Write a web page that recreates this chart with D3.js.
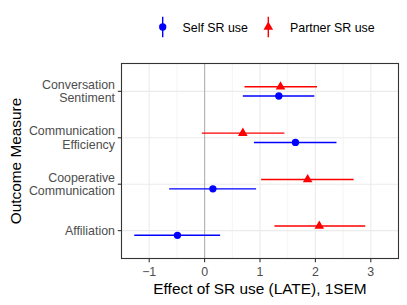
<!DOCTYPE html>
<html>
<head>
<meta charset="utf-8">
<script src="https://cdn.jsdelivr.net/npm/d3@7"></script>
<style>
  body { margin: 0; background: #fff; }
  svg { font-family: "Liberation Sans", Arial, sans-serif; display: block; }
</style>
</head>
<body>
<div id="chart"></div>
<script>
// outcomes, top to bottom
var outcomes = ['Conversation Sentiment', 'Communication Efficiency', 'Cooperative Communication', 'Affiliation'];
var outcomeLines = [['Conversation', 'Sentiment'], ['Communication', 'Efficiency'], ['Cooperative', 'Communication'], ['Affiliation']];

var selfEst = [1.34, 1.64, 0.15, -0.49];
var selfLo = [0.69, 0.89, -0.64, -1.27];
var selfHi = [1.98, 2.38, 0.93, 0.28];

var partnerEst = [1.37, 0.69, 1.86, 2.07];
var partnerLo = [0.72, -0.05, 1.02, 1.26];
var partnerHi = [2.03, 1.44, 2.69, 2.90];

var xTicks = [-1, 0, 1, 2, 3];
var xMinor = [-1.5, -0.5, 0.5, 1.5, 2.5, 3.5];
var seriesNames = ['Self SR use', 'Partner SR use'];
var seriesColors = ['#0000ff', '#ff0000'];

var width = 407, height = 305;
var svg = d3.select('#chart').append('svg').attr('width', width).attr('height', height);

// panel box (note: "top" is reserved on window, so pTop etc.)
var pLeft = 121.5, pRight = 398.5, pTop = 63.5, pBottom = 258.5;
var labelSize = 12.4, titleSize = 15.4;

var x = d3.scaleLinear().domain([-1.5, 3.5]).range([pLeft, pRight]);
var y = d3.scalePoint().domain(outcomes).range([pTop, pBottom]).padding(0.6);
var dodge = y.step() * 0.1;

var rows = [];
outcomes.forEach(function (o, i) {
    rows.push({ outcome: o, s: 0, est: selfEst[i], lo: selfLo[i], hi: selfHi[i] });
    rows.push({ outcome: o, s: 1, est: partnerEst[i], lo: partnerLo[i], hi: partnerHi[i] });
});
function rowY(d) { return y(d.outcome) + (d.s === 0 ? dodge : -dodge); }

// grid
var grid = svg.append('g');
grid.selectAll('.minor').data(xMinor).enter().append('line')
    .attr('x1', d => x(d)).attr('x2', d => x(d)).attr('y1', pTop).attr('y2', pBottom)
    .attr('stroke', '#ebebeb').attr('stroke-width', 0.55);
grid.selectAll('.majx').data(xTicks).enter().append('line')
    .attr('x1', d => x(d)).attr('x2', d => x(d)).attr('y1', pTop).attr('y2', pBottom)
    .attr('stroke', '#ebebeb').attr('stroke-width', 1.1);
grid.selectAll('.majy').data(outcomes).enter().append('line')
    .attr('x1', pLeft).attr('x2', pRight).attr('y1', d => y(d)).attr('y2', d => y(d))
    .attr('stroke', '#ebebeb').attr('stroke-width', 1.1);

// zero line
svg.append('line').attr('x1', x(0)).attr('x2', x(0)).attr('y1', pTop).attr('y2', pBottom)
    .attr('stroke', '#b3b3b3').attr('stroke-width', 1.1);

// error bars
svg.selectAll('.bar').data(rows).enter().append('line')
    .attr('x1', d => x(d.lo)).attr('x2', d => x(d.hi))
    .attr('y1', rowY).attr('y2', rowY)
    .attr('stroke', d => seriesColors[d.s]).attr('stroke-width', 1.4);

var circle = d3.symbol().type(d3.symbolCircle).size(42);
var tri = d3.symbol().type(d3.symbolTriangle).size(40);
svg.selectAll('.pt').data(rows).enter().append('path')
    .attr('d', d => d.s === 0 ? circle() : tri())
    .attr('transform', d => `translate(${x(d.est)},${rowY(d)})`)
    .attr('fill', d => seriesColors[d.s]);

// panel border
svg.append('rect').attr('x', pLeft).attr('y', pTop).attr('width', pRight - pLeft).attr('height', pBottom - pTop)
    .attr('fill', 'none').attr('stroke', '#333333').attr('stroke-width', 1.1);

// x axis
var xAxis = svg.append('g');
xTicks.forEach(function (t) {
    xAxis.append('line').attr('x1', x(t)).attr('x2', x(t)).attr('y1', pBottom).attr('y2', pBottom + 3.7)
        .attr('stroke', '#333333').attr('stroke-width', 1.1);
    xAxis.append('text').attr('x', x(t)).attr('y', pBottom + 17).attr('text-anchor', 'middle')
        .attr('font-size', labelSize).attr('fill', '#4d4d4d').text(t < 0 ? '\u2212' + Math.abs(t) : t);
});
svg.append('text').attr('x', (pLeft + pRight) / 2).attr('y', 294).attr('text-anchor', 'middle')
    .attr('font-size', titleSize).attr('fill', '#000').text('Effect of SR use (LATE), 1SEM');

// y axis
var yAxis = svg.append('g');
outcomes.forEach(function (o, i) {
    var yy = y(o);
    yAxis.append('line').attr('x1', pLeft - 3.7).attr('x2', pLeft).attr('y1', yy).attr('y2', yy)
        .attr('stroke', '#333333').attr('stroke-width', 1.1);
    var lines = outcomeLines[i];
    var lh = 13.3;
    var t = yAxis.append('text').attr('text-anchor', 'end').attr('font-size', labelSize).attr('fill', '#4d4d4d');
    lines.forEach(function (l, j) {
        t.append('tspan').attr('x', pLeft - 6.5)
            .attr('y', yy + 4.3 + (j - (lines.length - 1) / 2) * lh).text(l);
    });
});
svg.append('text').attr('transform', `translate(20.5,${(pTop + pBottom) / 2})rotate(-90)`)
    .attr('text-anchor', 'middle').attr('font-size', titleSize).attr('fill', '#000').text('Outcome Measure');

// legend
var legend = svg.append('g');
var keyX = [162.7, 268.3];
var textX = [182.5, 290];
seriesNames.forEach(function (n, i) {
    legend.append('line').attr('x1', keyX[i]).attr('x2', keyX[i]).attr('y1', 16.7).attr('y2', 37.3)
        .attr('stroke', seriesColors[i]).attr('stroke-width', 1.4);
    legend.append('path').attr('d', i === 0 ? circle() : tri())
        .attr('transform', `translate(${keyX[i]},27)`).attr('fill', seriesColors[i]);
    legend.append('text').attr('x', textX[i]).attr('y', 32).attr('font-size', labelSize).attr('fill', '#000').text(n);
});
</script>
</body>
</html>
